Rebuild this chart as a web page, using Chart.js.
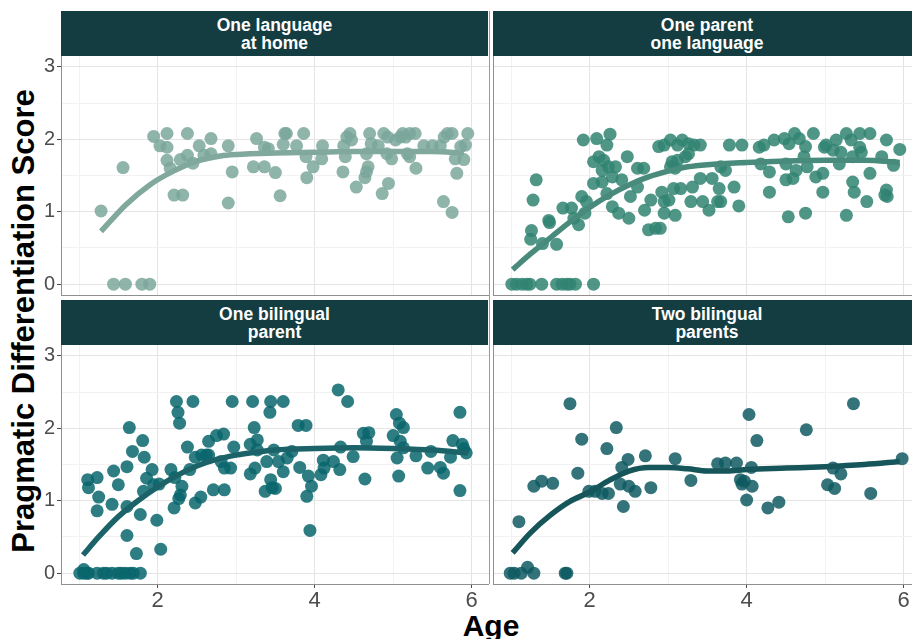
<!DOCTYPE html>
<html>
<head>
<meta charset="utf-8">
<script src="https://cdn.jsdelivr.net/npm/chart.js@4/dist/chart.umd.min.js"></script>
<style>
  html, body { margin: 0; padding: 0; background: #fff; overflow: hidden; width: 912px; height: 639px; }
  #fig { position: relative; width: 912px; height: 639px; overflow: hidden; font-family: "Liberation Sans", Arial, sans-serif; }
  #fig canvas { position: absolute; }
  .strip { position: absolute; background: #143d42; color: #fff; font-weight: bold; font-size: 17.5px; line-height: 18px;
           text-align: center; display: flex; align-items: center; justify-content: center; }
  .ytitle { position: absolute; width: 540px; height: 34px; left: -246px; top: 304px; transform: rotate(-90deg);
            text-align: center; font-weight: bold; font-size: 31px; line-height: 34px; color: #000; white-space: nowrap; }
  .xtitle { position: absolute; width: 200px; left: 391px; top: 611px; text-align: center; font-weight: bold;
            font-size: 30px; line-height: 30px; color: #000; }
  .divider { position: absolute; width: 1px; background: #9a9a9a; }
</style>
</head>
<body>
<div id="fig">
  <div class="strip" style="left:61px;top:11px;width:427px;height:45px">One language<br>at home</div>
  <div class="strip" style="left:493px;top:11px;width:428px;height:45px">One parent<br>one language</div>
  <div class="strip" style="left:61px;top:300px;width:427px;height:45px">One bilingual<br>parent</div>
  <div class="strip" style="left:493px;top:300px;width:428px;height:45px">Two bilingual<br>parents</div>
  <div class="divider" style="left:489px;top:11px;height:573px"></div>
  <div class="ytitle">Pragmatic Differentiation Score</div>
  <div class="xtitle">Age</div>
</div>
<script>
// Axis ticks shared by all facets
const xTicks = [1, 2, 3, 4, 5, 6];
const xTickLabels = ['', '2', '', '4', '', '6'];
const yTicks = [0, 0.5, 1, 1.5, 2, 2.5, 3];
const yTickLabels = ['0', '', '1', '', '2', '', '3'];

// One language at home
const ageOneLang = [1.28,1.44,1.59,1.80,1.90,1.56,1.95,2.03,2.12,2.12,2.12,2.16,2.21,2.32,2.29,2.38,2.38,2.45,2.53,2.59,
  2.68,2.68,2.90,2.90,2.95,3.22,3.26,3.36,3.36,3.41,3.50,3.56,3.60,3.62,3.64,3.77,3.86,3.89,3.90,3.98,
  4.09,4.10,4.36,4.37,4.39,4.41,4.45,4.47,4.53,4.64,4.66,4.68,4.66,4.70,4.72,4.81,4.86,4.88,4.93,4.92,
  4.94,4.98,5.03,5.09,5.12,5.16,5.21,5.28,5.18,5.21,5.29,5.39,5.50,5.60,5.65,5.69,5.75,5.64,5.75,5.79,
  5.81,5.95,5.90,5.86,5.92];
const scoreOneLang = [1.01,0,0,0,0,1.61,2.04,1.91,2.08,1.89,1.71,1.60,1.23,1.23,1.72,2.08,1.78,1.67,1.91,1.78,
  2.01,1.80,1.91,1.12,1.55,1.62,2.01,1.62,1.89,1.87,1.54,1.22,1.93,2.08,2.08,1.91,2.08,1.76,1.47,1.62,
  1.73,1.91,1.55,1.91,1.76,2.03,2.08,1.99,1.34,1.47,1.55,1.62,1.80,2.08,1.94,1.91,1.25,2.08,2.03,1.80,
  1.39,1.73,1.99,2.03,2.08,2.03,2.08,2.08,1.80,1.76,1.60,1.91,1.91,1.91,2.03,2.08,2.08,1.14,0.99,1.73,
  1.53,2.08,1.72,1.90,1.92];
const fitAgeOneLang = [1.28,1.6,1.9,2.2,2.5,2.8,3.0,3.5,4.0,4.5,5.0,5.5,5.9];
const fitOneLang = [0.73,1.10,1.37,1.56,1.70,1.77,1.79,1.81,1.82,1.83,1.83,1.83,1.81];

// One parent one language
const ageOPOL = [1.01,1.07,1.14,1.20,1.24,1.39,1.58,1.65,1.71,1.75,1.82,2.05,1.26,1.25,1.32,1.28,1.40,1.48,1.49,1.58,
  1.66,1.77,1.80,1.86,1.90,1.96,1.94,1.92,2.09,2.26,2.22,2.05,2.12,2.18,2.24,2.33,2.16,2.05,2.16,2.29,
  2.41,2.48,2.61,2.69,2.22,2.29,2.37,2.50,2.61,2.52,2.70,2.75,2.84,2.90,2.78,2.92,2.95,3.01,3.07,3.16,
  2.95,3.09,2.88,2.95,3.03,3.12,3.18,3.26,3.33,3.41,3.05,3.12,3.22,3.26,3.03,3.09,3.31,3.41,3.56,3.65,
  3.67,3.73,3.84,3.29,3.44,3.52,3.63,3.67,3.90,3.78,3.94,4.16,4.22,4.35,4.48,4.54,4.61,4.67,4.75,4.85,
  5.01,5.14,5.27,5.44,5.57,5.78,5.95,4.18,4.29,4.50,4.63,4.73,4.77,4.88,4.97,5.18,5.35,5.44,5.57,5.72,
  4.29,4.50,4.59,4.53,4.75,5.27,4.97,5.35,5.37,5.53,5.78,5.79,4.99,5.10,5.20,5.33,5.46,5.87,5.76];
const scoreOPOL = [0,0,0,0,0,0,0,0,0,0,0,0,0.74,0.62,1.44,1.16,0.56,0.88,0.85,0.55,
  1.05,1.05,0.91,0.82,1.21,1.14,0.98,1.99,2.01,2.07,1.92,1.69,1.76,1.71,1.62,1.62,1.57,1.39,1.41,1.48,
  1.44,1.76,1.60,1.60,1.25,1.07,0.98,0.91,1.34,1.21,1.02,0.75,0.77,0.77,1.16,1.27,1.14,1.16,1.32,1.32,
  0.98,0.95,1.90,1.92,1.99,1.92,1.99,1.94,1.92,1.92,1.69,1.71,1.76,1.80,1.62,1.60,1.34,1.46,1.46,1.32,
  1.62,1.57,1.34,1.14,1.14,1.02,1.14,1.14,1.08,1.92,1.92,1.89,1.92,1.99,2.01,1.94,2.08,2.01,1.90,2.08,
  1.92,1.99,2.08,2.08,2.08,1.99,1.86,1.66,1.55,1.66,1.57,1.76,1.62,1.48,1.53,1.66,1.76,1.89,1.53,1.76,
  1.27,1.44,1.46,0.93,0.98,0.95,1.27,1.41,1.27,1.14,1.30,1.21,1.89,1.85,1.82,1.99,1.82,1.64,1.23];
const fitAgeOPOL = [1.02,1.25,1.5,1.75,2.0,2.25,2.5,2.75,3.0,3.25,3.5,4.0,4.5,5.0,5.5,5.95];
const fitOPOL = [0.20,0.42,0.64,0.86,1.06,1.23,1.37,1.48,1.56,1.62,1.65,1.68,1.70,1.71,1.71,1.68];

// One bilingual parent
const ageOneBil = [1.01,1.06,1.10,1.12,1.23,1.31,1.35,1.42,1.50,1.54,1.59,1.65,1.69,1.78,1.06,1.11,1.12,1.23,1.25,1.23,
  1.44,1.42,1.50,1.61,1.61,1.61,1.64,1.68,1.73,1.78,1.82,1.86,1.81,1.83,1.93,1.95,1.99,2.04,2.02,2.17,
  2.21,2.27,2.29,2.22,2.31,2.24,2.26,2.28,2.45,2.38,2.41,2.48,2.48,2.55,2.56,2.62,2.65,2.65,2.71,2.85,
  2.75,2.84,2.81,2.85,2.93,2.97,2.95,3.18,3.23,3.27,3.24,3.18,3.27,3.21,3.44,3.60,3.43,3.37,3.44,3.46,
  3.50,3.39,3.48,3.54,3.60,3.65,3.71,3.79,3.89,3.81,3.92,3.96,3.90,3.94,4.08,4.11,4.12,4.24,4.32,4.30,
  4.42,4.33,4.49,4.64,4.62,4.69,4.66,5.00,5.04,5.08,5.13,5.05,5.07,5.09,5.13,5.29,5.44,5.48,5.60,5.64,
  5.73,5.76,5.85,5.85,5.90,5.93,5.88];
const scoreOneBil = [0,0,0,0,0,0,0,0,0,0,0,0,0,0,0.05,1.29,1.18,1.32,1.05,0.86,
  1.41,0.95,1.22,1.47,0.92,0.52,2.01,1.68,0.27,0.81,1.13,1.31,1.83,1.60,1.43,1.22,0.73,0.33,1.23,1.43,
  0.90,1.03,1.08,1.32,1.20,2.37,2.22,2.07,2.37,1.74,1.43,1.60,0.97,1.05,1.63,1.63,1.82,1.63,1.15,1.15,
  1.90,1.92,1.54,1.45,1.45,1.74,2.37,1.78,2.01,1.84,1.45,1.37,1.70,2.37,2.37,2.37,2.22,1.13,1.29,1.18,
  1.17,1.54,1.70,1.54,1.40,1.59,1.68,2.04,2.04,1.46,1.34,1.20,1.06,0.59,1.36,1.56,1.45,1.54,1.43,2.53,
  2.37,1.74,1.61,1.30,1.93,1.94,1.82,1.90,2.19,2.07,2.01,1.59,1.34,1.82,1.73,1.62,1.45,1.68,1.46,1.38,
  1.60,1.83,2.22,1.14,1.72,1.66,1.78];
const fitAgeOneBil = [1.05,1.25,1.5,1.75,2.0,2.25,2.5,2.75,3.0,3.25,3.5,4.0,4.5,5.0,5.5,5.95];
const fitOneBil = [0.25,0.50,0.78,1.00,1.19,1.35,1.48,1.57,1.63,1.67,1.70,1.72,1.73,1.72,1.70,1.66];

// Two bilingual parents
const ageTwoBil = [0.99,1.04,1.13,1.29,1.69,1.71,1.21,1.10,1.29,1.39,1.53,1.75,1.85,1.90,1.99,2.07,2.16,2.24,2.22,2.34,
  2.41,2.49,2.39,2.50,2.58,2.43,2.71,2.78,3.09,3.29,3.63,3.73,3.87,3.92,3.94,3.97,4.00,4.03,4.13,4.06,
  4.07,4.27,4.41,4.76,5.03,5.12,5.10,5.20,5.36,5.58,5.98];
const scoreTwoBil = [0,0,0,0,0,0,0.08,0.71,1.20,1.27,1.24,2.34,1.38,1.85,1.13,1.13,1.10,1.10,1.72,2.01,
  1.46,1.57,1.23,1.20,1.13,0.92,1.62,1.18,1.58,1.28,1.51,1.52,1.52,1.29,1.23,1.27,1.01,2.19,1.83,1.46,
  1.20,0.90,0.98,1.98,1.22,1.17,1.45,1.37,2.34,1.10,1.58];
const fitAgeTwoBil = [1.02,1.25,1.5,1.75,2.0,2.25,2.5,2.75,3.0,3.25,3.5,3.75,4.0,4.5,5.0,5.5,5.95];
const fitTwoBil = [0.28,0.56,0.80,0.99,1.12,1.28,1.41,1.46,1.46,1.44,1.41,1.41,1.43,1.45,1.47,1.50,1.54];

const X_MIN = 0.77, X_MAX = 6.22, Y_MIN = -0.15, Y_MAX = 3.15;
const FIG_H = 639;

function zip(xs, ys) { return xs.map((x, i) => ({ x: x, y: ys[i] })); }

function panel(rect, showX, showY, xs, ys, fx, fy, pointColor, lineColor) {
  const fig = document.getElementById('fig');
  const cv = document.createElement('canvas');
  const left = showY ? 0 : rect.x - 1;
  const yW = rect.x - left;
  const xH = showX ? FIG_H - (rect.y + rect.h) : 1;
  const W = yW + rect.w;
  const H = rect.h + xH;
  cv.width = W; cv.height = H;
  cv.style.left = left + 'px'; cv.style.top = rect.y + 'px';
  cv.style.width = W + 'px'; cv.style.height = H + 'px';
  fig.appendChild(cv);

  const majorGrid = 'rgb(228,228,228)', minorGrid = 'rgb(242,242,242)';
  new Chart(cv, {
    type: 'scatter',
    data: {
      datasets: [
        { type: 'line', data: zip(fx, fy), borderColor: lineColor, borderWidth: 5.5, pointRadius: 0,
          fill: false, cubicInterpolationMode: 'monotone', borderCapStyle: 'butt' },
        { type: 'scatter', data: zip(xs, ys), backgroundColor: pointColor, borderWidth: 0,
          pointRadius: 6.5, pointHoverRadius: 6.5 }
      ]
    },
    options: {
      responsive: false, animation: false, events: [],
      layout: { padding: 0, autoPadding: false },
      plugins: { legend: { display: false }, tooltip: { enabled: false } },
      scales: {
        x: {
          type: 'linear', min: X_MIN, max: X_MAX,
          afterBuildTicks: s => { s.ticks = xTicks.map(v => ({ value: v })); },
          afterFit: s => { s.height = xH; s.paddingLeft = 0; s.paddingRight = 0; },
          border: { display: true, color: '#8f8f8f', width: 1 },
          grid: {
            color: c => (c.tick && c.tick.value % 2 === 0) ? majorGrid : minorGrid,
            lineWidth: 1, drawTicks: showX, tickLength: 4,
            tickColor: c => (c.tick && c.tick.value % 2 === 0) ? '#4d4d4d' : 'rgba(0,0,0,0)'
          },
          ticks: {
            display: showX, autoSkip: false, maxRotation: 0, padding: 0,
            color: '#4d4d4d', font: { family: '"Liberation Sans", Arial, sans-serif', size: 22 },
            callback: (v, i) => xTickLabels[i]
          }
        },
        y: {
          type: 'linear', min: Y_MIN, max: Y_MAX,
          afterBuildTicks: s => { s.ticks = yTicks.map(v => ({ value: v })); },
          afterFit: s => { s.width = yW; s.paddingTop = 0; s.paddingBottom = 0; },
          border: { display: true, color: '#8f8f8f', width: 1 },
          grid: {
            color: c => (c.tick && Number.isInteger(c.tick.value)) ? majorGrid : minorGrid,
            lineWidth: 1, drawTicks: showY, tickLength: 4,
            tickColor: c => (c.tick && Number.isInteger(c.tick.value)) ? '#4d4d4d' : 'rgba(0,0,0,0)'
          },
          ticks: {
            display: showY, autoSkip: false, padding: 2,
            color: '#4d4d4d', font: { family: '"Liberation Sans", Arial, sans-serif', size: 20 },
            callback: (v, i) => yTickLabels[i]
          }
        }
      }
    }
  });
}

panel({ x: 61, y: 56, w: 428, h: 239 }, false, true, ageOneLang, scoreOneLang, fitAgeOneLang, fitOneLang,
      'rgba(123,167,155,0.85)', 'rgb(128,168,157)');
panel({ x: 493, y: 56, w: 428, h: 239 }, false, false, ageOPOL, scoreOPOL, fitAgeOPOL, fitOPOL,
      'rgba(49,132,114,0.85)', 'rgb(72,138,123)');
panel({ x: 61, y: 345, w: 428, h: 239 }, true, true, ageOneBil, scoreOneBil, fitAgeOneBil, fitOneBil,
      'rgba(8,102,108,0.85)', 'rgb(27,99,104)');
panel({ x: 493, y: 345, w: 428, h: 239 }, true, false, ageTwoBil, scoreTwoBil, fitAgeTwoBil, fitTwoBil,
      'rgba(15,90,97,0.85)', 'rgb(22,85,90)');
</script>
</body>
</html>
